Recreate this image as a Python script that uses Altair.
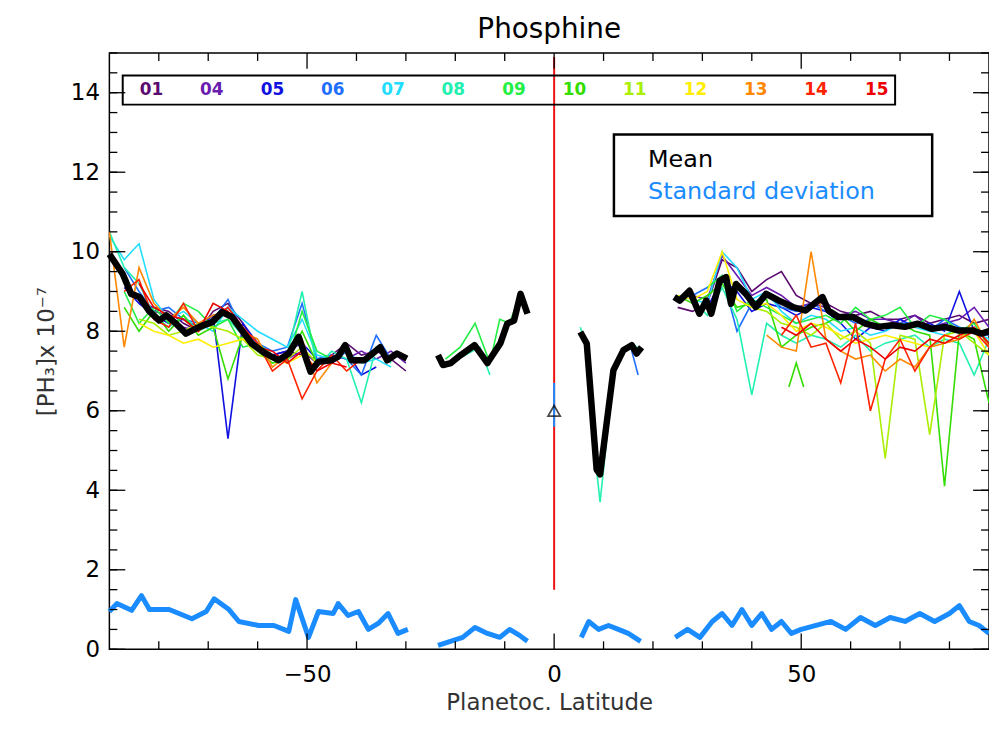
import altair as alt
import pandas as pd

# ---- data ----
south_lat = [-90, -87, -84, -81, -78, -75, -72, -69, -66, -63, -60, -57, -54, -51, -48, -45, -42, -39, -36, -33, -30]
north_lat = [25, 28, 31, 34, 37, 40, 43, 46, 49, 52, 55, 58, 61, 64, 67, 70, 73, 76, 79, 82, 85, 88]

files = ["01", "04", "05", "06", "07", "08", "09", "10", "11", "12", "13", "14", "15"]
file_colors = ["#5a0a6e", "#6a1bb0", "#1010e0", "#1f6fff", "#22ddff", "#22f0b0", "#22ee44",
               "#33dd00", "#aaee00", "#ffee00", "#ff8800", "#ff2200", "#ee0000"]

south = {
    "01": [None, None, 8.7, 8.6, 8.5, 8.2, 8.0, 8.5, 8.7, 8.2, 7.6, 7.4, 7.5, 7.4, 7.3, 7.4, 7.7, 7.4, 7.5, 7.3, 7.0],
    "04": [None, None, 8.9, 8.5, 8.4, 8.1, 8.0, 8.3, 8.6, 8.1, 7.5, 7.4, 7.3, 7.5, 7.2, 7.4, 7.3, 7.5, 7.3, 7.5, 7.2],
    "05": [None, 9.1, 8.7, 8.4, 8.2, 8.3, 8.1, 8.4, 5.3, 8.2, 7.7, 7.4, 7.5, 7.7, 7.3, 7.2, 7.5, 6.9, 7.1],
    "06": [None, 9.6, 9.0, 8.5, 8.6, 8.3, 8.2, 8.3, 8.8, 8.0, 7.7, 7.5, 7.6, 8.7, 7.3, 7.4, 7.3, 6.9, 7.9, 7.3],
    "07": [10.4, 9.8, 10.2, 8.8, 8.3, 8.5, 8.2, 8.0, 8.6, 8.3, 8.0, 7.8, 7.6, 8.3, 7.4, 7.3, 7.5, 7.2, 7.3, 7.1],
    "08": [10.5, 9.6, 9.2, 8.4, 8.1, 8.4, 8.0, 8.2, 8.3, 7.9, 7.6, 7.3, 7.4, 9.0, 7.1, 7.5, 7.3, 6.2, 7.6, 7.2],
    "09": [None, 9.0, 8.2, 8.6, 8.2, 8.7, 8.5, 8.1, 8.3, 7.6, 7.7, 7.4, 7.2, 8.5, 7.5, 7.3, 7.6],
    "10": [None, 8.6, 8.0, 8.5, 8.0, 8.4, 7.9, 8.1, 6.8, 7.9, 7.5, 7.2, 7.3, 8.0, 7.2],
    "11": [None, None, 8.3, 8.2, 7.9, 8.0, 8.2, 8.1, 8.0, 7.8, 7.4, 7.3, 7.3, 7.6, 7.2],
    "12": [None, None, 8.2, 8.0, 7.9, 7.7, 7.8, 7.6, 7.7, 7.8, 7.6, 7.3, 7.2, 7.4, 7.1],
    "13": [10.5, 7.6, 9.6, 8.7, 8.3, 8.6, 8.2, 8.4, 8.5, 8.0, 7.8, 7.1, 7.4, 7.8, 6.7, 7.2],
    "14": [None, 9.0, 9.3, 8.3, 8.1, 8.7, 8.0, 8.3, 8.6, 8.1, 7.7, 7.0, 7.3, 6.3, 7.0, 7.4, 7.0, 7.3],
    "15": [None, None, 9.2, 8.6, 8.4, 8.3, 8.0, 8.7, 8.5, 7.9, 7.6, 7.5, 7.2, 7.5, 7.0, 7.2, 7.1],
}
north = {
    "01": [8.6, 8.5, 8.7, 9.8, 9.6, 9.0, 9.3, 9.5, 8.9, 8.7, 8.7, 8.5, 8.4, 8.5, 8.3, 8.3, 8.4, 8.2, 8.3, 8.4, 8.2, 8.3],
    "04": [8.8, 8.9, 8.8, 9.9, 9.4, 8.9, 9.1, 8.9, 8.6, 8.7, 8.6, 8.4, 8.5, 8.3, 8.3, 8.2, 8.4, 8.1, 8.2, 8.3, 8.6, 8.1],
    "05": [None, None, 8.6, 9.3, 9.0, 8.5, 8.7, 8.6, 8.4, 8.6, 8.5, 8.2, 7.8, 8.1, 8.0, 8.3, 8.1, 8.2, 8.0, 9.0, 8.0, 7.9],
    "06": [None, 8.9, 9.1, 9.4, 8.0, 8.7, 8.9, 8.6, 8.5, 8.7, 8.5, 8.4, 8.2, 8.3, 8.1, 8.2, 8.2, 8.0, 8.3, 8.1, 8.0, 7.9],
    "07": [8.9, 8.8, 8.7, 10.0, 9.6, 8.8, 9.0, 8.5, 8.2, 8.4, 8.3, 8.0, 8.1, 7.9, 8.0, 8.2, 8.1, 8.0, 7.9, 8.1, 8.0, 7.8],
    "08": [None, 8.8, 8.4, 9.1, 8.3, 6.4, 8.2, 7.9, 7.7, 7.9, 7.8, 7.6, 7.9, 7.5, 7.7, 7.8, 7.9, 7.6, 7.8, 7.7, 6.9, 7.8],
    "09": [None, None, 9.1, 9.4, 8.5, 8.8, 8.6, 8.4, 8.2, 8.3, 8.4, 8.2, 8.6, 8.3, 8.4, 8.6, 8.1, 8.4, 8.3, 8.0, 8.2, 7.6],
    "10": [8.9, 8.7, 8.9, 9.2, 8.6, 8.7, 8.8, 7.6, 7.9, 8.1, 8.2, 8.4, 8.0, 8.3, 8.1, 8.2, 8.0, 7.9, 4.1, 8.0, 7.8, 6.2],
    "11": [None, None, None, None, None, 8.6, 8.5, 8.2, 8.1, 7.9, 8.2, 7.8, 8.0, 7.7, 4.8, 7.9, 7.8, 5.4, 7.9, 8.0, 7.7, 7.4],
    "12": [8.9, 8.8, 9.0, 10.0, 8.8, 8.6, 8.7, 8.4, 8.0, 8.2, 8.1, 7.9, 7.7, 7.8, 7.9, 7.8, 7.7, 7.6, 7.9, 7.8, 8.0, 7.4],
    "13": [None, None, None, None, None, None, 7.9, 7.6, 7.5, 10.0, 7.8, 7.5, 7.3, 7.4, 7.0, 7.3, 7.1, 7.6, 7.7, 7.8, 8.3, 7.6],
    "14": [None, None, None, None, None, None, None, 7.9, 8.4, 7.6, 7.7, 6.7, 8.2, 6.0, 7.3, 7.8, 7.0, 7.6, 7.9, 7.8, 8.0, 7.6],
    "15": [None, None, None, None, None, None, None, 8.1, 7.9, 8.2, 7.8, 7.5, 7.8, 7.6, 7.3, 7.6, 7.5, 7.8, 7.7, 7.9, 8.1, 7.7],
}
# short extra pieces near the equator
extra = [
    ("09", [-22, -19, -16, -13, -11, -9, -7], [7.3, 7.6, 8.2, 7.2, 8.3, 8.2, 8.9]),
    ("08", [-21, -18, -15, -13], [7.2, 7.4, 7.6, 6.9]),
    ("08", [5.3, 6.6, 8.6, 9.3, 12, 14, 15.7, 17.7], [8.1, 7.6, 4.5, 3.7, 6.9, 7.5, 7.7, 7.5]),
    ("06", [14, 15.5, 17], [7.5, 7.6, 6.9]),
    ("10", [47.5, 49, 50.5], [6.6, 7.2, 6.6]),
]

mean_segs = [
    ([-90, -87.3, -85.6, -83.9, -81.9, -79.9, -78.5, -76.5, -74.5, -71.8, -69.2, -67.2, -65.2, -63.2,
      -61.2, -58.4, -55.8, -53.7, -51.7, -49.3, -47.7, -45.1, -43.7, -42.3, -41.0, -38.4, -35.2,
      -33.8, -31.8, -29.8],
     [9.94, 9.44, 8.94, 8.86, 8.5, 8.27, 8.4, 8.19, 7.94, 8.11, 8.23, 8.48, 8.36, 8.02, 7.69, 7.44,
      7.27, 7.44, 7.86, 6.98, 7.23, 7.27, 7.36, 7.65, 7.27, 7.27, 7.6, 7.27, 7.44, 7.31]),
    ([-23.5, -22.5, -20.9, -18.9, -16.1, -13.5, -10.9, -9.5, -8.1, -6.8, -5.4],
     [7.4, 7.15, 7.2, 7.4, 7.65, 7.2, 7.69, 8.19, 8.27, 8.94, 8.44]),
    ([5.3, 6.6, 8.6, 9.3, 12.0, 14.0, 15.7, 16.7, 17.7],
     [7.98, 7.69, 4.52, 4.4, 7.02, 7.52, 7.65, 7.44, 7.6]),
    ([24.3, 25.4, 27.4, 29.4, 30.8, 31.8, 33.5, 34.8, 35.8, 36.8, 38.8, 40.8, 42.9, 45.5, 48.3, 50.9,
      54.3, 55.5, 57.5, 60.4, 63.0, 65.6, 68.4, 71.0, 73.6, 76.5, 79.1, 81.7, 84.5, 86.5, 88.5],
     [8.86, 8.77, 9.02, 8.44, 8.77, 8.44, 9.27, 9.36, 8.69, 9.19, 8.94, 8.61, 8.94, 8.77, 8.61, 8.52,
      8.86, 8.52, 8.36, 8.36, 8.19, 8.11, 8.15, 8.11, 8.19, 8.06, 8.11, 8.02, 8.02, 7.94, 8.02]),
]
sd_segs = [
    ([-90, -88.5, -85.5, -83.5, -81.9, -77.9, -73.3, -70.4, -68.8, -65.8, -63.8, -59.8, -56.7, -53.7,
      -52.3, -49.7, -47.7, -44.7, -43.7, -41.7, -39.6, -37.6, -35.6, -33.6, -31.6, -29.6],
     [0.95, 1.15, 0.98, 1.35, 1.0, 1.0, 0.77, 0.95, 1.27, 1.0, 0.7, 0.6, 0.6, 0.45, 1.25, 0.3, 0.95,
      0.9, 1.15, 0.85, 0.95, 0.5, 0.65, 0.9, 0.4, 0.5]),
    ([-23.5, -21, -18.5, -16, -13.5, -11, -9, -7, -5.4], [0.1, 0.2, 0.3, 0.55, 0.4, 0.3, 0.5, 0.35, 0.2]),
    ([5.5, 7, 9, 11, 13, 15, 17.5], [0.3, 0.7, 0.5, 0.6, 0.5, 0.4, 0.2]),
    ([24.5, 27, 29.5, 32, 34, 36, 38, 40, 42, 44, 46, 48, 50, 53, 56, 59, 62, 65, 68, 71, 74, 77, 80,
      82, 84, 86, 88],
     [0.3, 0.5, 0.3, 0.7, 0.9, 0.6, 1.0, 0.6, 0.9, 0.5, 0.7, 0.4, 0.5, 0.6, 0.7, 0.5, 0.8, 0.6, 0.8,
      0.7, 0.9, 0.7, 0.9, 1.1, 0.7, 0.6, 0.4]),
]

legend_lat = [-81.5, -69.3, -57.0, -44.8, -32.6, -20.4, -8.1, 4.1, 16.3, 28.6, 40.8, 53.0, 65.3]

# ---- build tables ----
rows = []
def add(f, seg, lats, vals):
    for i, (a, v) in enumerate(zip(lats, vals)):
        if v is not None:
            rows.append({"file": f, "seg": f + seg, "lat": a, "val": v, "i": i})

for f in files:
    add(f, "S", south_lat, south[f])
    add(f, "N", north_lat, north[f])
for k, (f, la, va) in enumerate(extra):
    add(f, "E%d" % k, la, va)
obs = pd.DataFrame(rows)

def seg_df(segs):
    r = []
    for k, (la, va) in enumerate(segs):
        for i, (a, v) in enumerate(zip(la, va)):
            r.append({"seg": k, "lat": a, "val": v, "i": i})
    return pd.DataFrame(r)

mean_df = seg_df(mean_segs)
sd_df = seg_df(sd_segs)

X = alt.Scale(domain=[-90, 88], nice=False, zero=False)
Y = alt.Scale(domain=[0, 15], nice=False, zero=False)
FONT = "DejaVu Sans"

x_enc = alt.X("lat:Q", scale=X, title="Planetoc. Latitude",
              axis=alt.Axis(values=[-50, 0, 50], ticks=False, domain=False, grid=False,
                            labelFontSize=23, labelFont=FONT, labelPadding=14, labelColor="black",
                            titleFontSize=23, titleFont=FONT, titleFontWeight="normal",
                            titlePadding=6, titleColor="#333"))
y_enc = alt.Y("val:Q", scale=Y, title="[PH₃]x 10⁻⁷",
              axis=alt.Axis(values=[0, 2, 4, 6, 8, 10, 12, 14], ticks=False, domain=False, grid=False,
                            labelFontSize=23, labelFont=FONT, labelPadding=10, labelColor="black",
                            titleFontSize=23, titleFont=FONT, titleFontWeight="normal",
                            titlePadding=12, titleColor="#333"))

color = alt.Color("file:N", scale=alt.Scale(domain=files, range=file_colors), legend=None)

obs_lines = alt.Chart(obs).mark_line(strokeWidth=1.6).encode(
    x=x_enc, y=y_enc, color=color, detail="seg:N", order="i:Q")
mean_line = alt.Chart(mean_df).mark_line(strokeWidth=6.5, color="black", strokeJoin="round").encode(
    x="lat:Q", y="val:Q", detail="seg:N", order="i:Q")
sd_line = alt.Chart(sd_df).mark_line(strokeWidth=5, color="#1a8cff", strokeJoin="round").encode(
    x="lat:Q", y="val:Q", detail="seg:N", order="i:Q")

# equator marker
eq_red = alt.Chart(pd.DataFrame({"lat": [0], "y1": [1.5], "y2": [14.9]})).mark_rule(
    color="#ee1111", strokeWidth=2).encode(x="lat:Q", y="y1:Q", y2="y2:Q")
eq_blue = alt.Chart(pd.DataFrame({"lat": [0], "y1": [5.6], "y2": [6.7]})).mark_rule(
    color="#1a8cff", strokeWidth=2).encode(x="lat:Q", y="y1:Q", y2="y2:Q")
tri = alt.Chart(pd.DataFrame({"lat": [0], "val": [6.0]})).mark_point(
    shape="triangle-up", size=150, color="black", strokeWidth=1.8, filled=False).encode(
    x="lat:Q", y="val:Q")

# legend of files
leg_box = alt.Chart(pd.DataFrame({"a": [-87.3], "b": [69.0], "c": [13.7], "d": [14.43]})).mark_rect(
    fill="white", fillOpacity=0, stroke="black", strokeWidth=2).encode(
    x="a:Q", x2="b:Q", y="c:Q", y2="d:Q")
leg_txt = alt.Chart(pd.DataFrame({"lat": legend_lat, "val": [14.07] * len(files), "file": files})).mark_text(
    fontSize=17, font=FONT, fontWeight="bold").encode(x="lat:Q", y="val:Q", text="file:N", color=color)

# mean / sd legend
ms_box = alt.Chart(pd.DataFrame({"a": [12.1], "b": [76.5], "c": [10.9], "d": [12.95]})).mark_rect(
    fill="white", stroke="black", strokeWidth=2.5).encode(x="a:Q", x2="b:Q", y="c:Q", y2="d:Q")
ms_txt = alt.Chart(pd.DataFrame({"lat": [19.0, 19.0], "val": [12.3, 11.5],
                                 "t": ["Mean", "Standard deviation"], "c": ["black", "#1a8cff"]})).mark_text(
    fontSize=24, font=FONT, align="left").encode(
    x="lat:Q", y="val:Q", text="t:N", color=alt.Color("c:N", scale=None))

# IDL-style inward ticks
y_major = [0, 2, 4, 6, 8, 10, 12, 14]
y_minor = [v / 2 for v in range(0, 31)]
x_major = [-50, 0, 50]
x_minor = [-80, -70, -60, -40, -30, -20, -10, 10, 20, 30, 40, 60, 70, 80]
W, H = 885, 600

def yticks(vals, ln):
    d = pd.DataFrame({"val": vals})
    left = alt.Chart(d).mark_rule(color="black", strokeWidth=1.3).encode(
        y=alt.Y("val:Q", scale=Y), x=alt.value(0), x2=alt.value(ln))
    right = alt.Chart(d).mark_rule(color="black", strokeWidth=1.3).encode(
        y=alt.Y("val:Q", scale=Y), x=alt.value(W), x2=alt.value(W - ln))
    return left + right

def xticks(vals, ln):
    d = pd.DataFrame({"lat": vals})
    bot = alt.Chart(d).mark_rule(color="black", strokeWidth=1.3).encode(
        x=alt.X("lat:Q", scale=X), y=alt.value(H), y2=alt.value(H - ln))
    top = alt.Chart(d).mark_rule(color="black", strokeWidth=1.3).encode(
        x=alt.X("lat:Q", scale=X), y=alt.value(0), y2=alt.value(ln))
    return bot + top

chart = alt.layer(
    obs_lines, mean_line, sd_line, eq_red, eq_blue, tri, leg_box, leg_txt, ms_box, ms_txt,
    yticks(y_major, 16), yticks(y_minor, 8), xticks(x_major, 16), xticks(x_minor, 8)
).properties(
    width=W, height=H,
    title=alt.TitleParams("Phosphine", fontSize=28, font=FONT, fontWeight="normal", offset=8),
    autosize=alt.AutoSizeParams(type="none"),
    padding={"left": 102, "top": 43, "right": 0, "bottom": 83},
).configure_view(stroke="black", strokeWidth=1.5)

chart.save("out.html", embed_options={"renderer": "svg", "actions": False})
